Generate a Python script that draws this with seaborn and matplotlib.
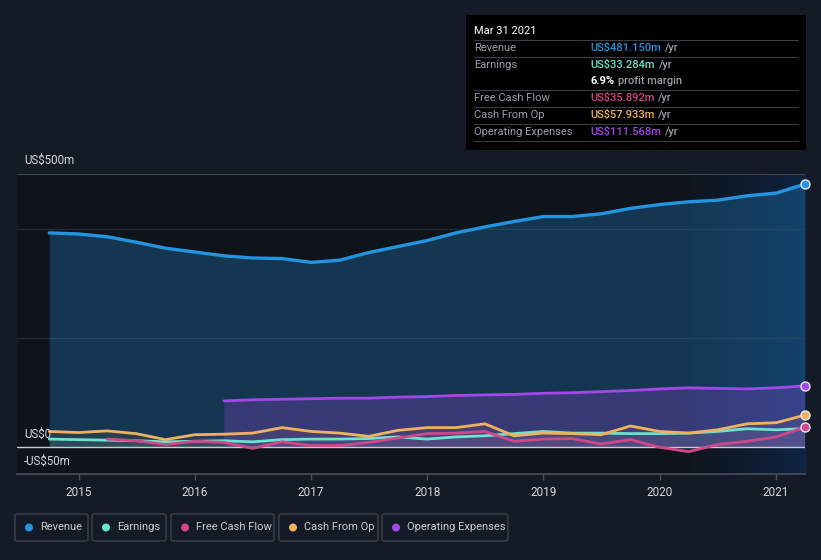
import numpy as np
import pandas as pd
import matplotlib
matplotlib.use("Agg")
import matplotlib.pyplot as plt
import seaborn as sns
from matplotlib.patches import FancyBboxPatch, Rectangle, Ellipse
from matplotlib.colors import LinearSegmentedColormap

# ---------------- data (US$ m, trailing twelve months) ----------------
dates = ["2014-09-30", "2014-12-31", "2015-03-31", "2015-06-30", "2015-09-30", "2015-12-31",
         "2016-03-31", "2016-06-30", "2016-09-30", "2016-12-31", "2017-03-31", "2017-06-30",
         "2017-09-30", "2017-12-31", "2018-03-31", "2018-06-30", "2018-09-30", "2018-12-31",
         "2019-03-31", "2019-06-30", "2019-09-30", "2019-12-31", "2020-03-31", "2020-06-30",
         "2020-09-30", "2020-12-31", "2021-03-31"]
revenue = [392, 390, 385, 375, 364, 357, 350, 346, 345, 338, 342, 356, 367, 378, 392, 403,
           413, 422, 422, 427, 437, 444, 449, 452, 460, 465, 481.15]
earnings = [14, 13, 12, 11, 9, 10, 11, 9, 13, 14, 14, 15, 18, 14, 18, 20, 24, 28, 25, 25,
            24, 24, 25, 28, 33, 31, 33.284]
cash_from_op = [28, 26, 29, 24, 13, 22, 23, 25, 35, 28, 25, 19, 30, 35, 35, 42, 20, 25, 24,
                22, 38, 28, 25, 31, 42, 44, 57.933]
fcf_dates = dates[2:]
free_cash_flow = [14, 11, 4, 10, 8, -3, 9, 2, 2, 8, 16, 24, 25, 28, 10, 14, 15, 5, 13, -1,
                  -9, 4, 10, 18, 35.892]
opex_dates = dates[6:]
operating_expenses = [84, 86, 87, 88, 89, 89, 91, 92, 94, 95, 96, 98, 99, 101, 103, 106, 108,
                      107, 106, 108, 111.568]

year_ticks = [2015, 2016, 2017, 2018, 2019, 2020, 2021]
series_names = ["Revenue", "Earnings", "Free Cash Flow", "Cash From Op", "Operating Expenses"]
colors = {"Revenue": "#2394df", "Earnings": "#6be3cf", "Free Cash Flow": "#d2478a",
          "Cash From Op": "#f0b25e", "Operating Expenses": "#a447e8"}

def dec_year(ds):
    d = pd.to_datetime(pd.Series(ds))
    return (d.dt.year + (d.dt.dayofyear) / 365.25).to_numpy()

frames = []
for name, ds, vals in [("Revenue", dates, revenue), ("Earnings", dates, earnings),
                       ("Free Cash Flow", fcf_dates, free_cash_flow),
                       ("Cash From Op", dates, cash_from_op),
                       ("Operating Expenses", opex_dates, operating_expenses)]:
    frames.append(pd.DataFrame({"t": dec_year(ds), "value": vals, "series": name}))
df = pd.concat(frames, ignore_index=True)

# ---------------- figure ----------------
W, H = 821, 560
FIG_BG = "#151b26"
AX_BG = "#0f131a"
sns.set_theme(style="dark")
plt.rcParams["font.family"] = ["Roboto", "DejaVu Sans"]

fig = plt.figure(figsize=(W / 100, H / 100), dpi=100, facecolor=FIG_BG)

def fx(x):
    return x / W

def fy(y):
    return 1 - y / H

ax = fig.add_axes([fx(17), fy(474), fx(805) - fx(17), fy(174) - fy(474)])
ax.set_facecolor(AX_BG)
ax.set_xlim(2014.47, 2021.25)
ax.set_ylim(-50, 500)

# highlight region (last year)
grad = np.linspace(0, 1, 256).reshape(1, -1)
cmap = LinearSegmentedColormap.from_list("hl", [(0.05, 0.12, 0.2, 0.25), (0.05, 0.2, 0.4, 0.55)])
ax.imshow(grad, extent=[2020.25, 2021.25, -50, 500], aspect="auto", cmap=cmap,
          zorder=0.5, interpolation="bicubic")

# grid lines
for gv in [200, 400]:
    ax.axhline(gv, color="#232833", lw=1.0, zorder=0.6)
ax.axhline(500, color="#4a4f59", lw=1.2, zorder=3)
ax.axhline(0, color="#c9cdd3", lw=1.0, zorder=3)

# fills
fill_alpha = {"Revenue": 0.28, "Earnings": 0.08, "Free Cash Flow": 0.08,
              "Cash From Op": 0.08, "Operating Expenses": 0.25}
for name in series_names:
    sub = df[df.series == name]
    ax.fill_between(sub.t, sub.value, 0, color=colors[name], alpha=fill_alpha[name],
                    lw=0, zorder=1)

# lines
draw_order = ["Revenue", "Operating Expenses", "Earnings", "Cash From Op", "Free Cash Flow"]
lw = {"Revenue": 2.4, "Earnings": 2.0, "Free Cash Flow": 2.0, "Cash From Op": 2.0,
      "Operating Expenses": 2.0}
for i, name in enumerate(draw_order):
    sub = df[df.series == name]
    sns.lineplot(data=sub, x="t", y="value", ax=ax, color=colors[name], lw=lw[name],
                 estimator=None, sort=False, legend=False, zorder=4 + i * 0.1)
    last = sub.iloc[-1]
    if name != "Earnings":
        ax.scatter([last.t], [last.value], s=42, color=colors[name], edgecolor="#e8eaf0",
                   linewidth=1.0, zorder=6, clip_on=False)

# axes styling
ax.set_xlabel("")
ax.set_ylabel("")
ax.set_yticks([])
ax.set_xticks(year_ticks)
ax.set_xticklabels([str(y) for y in year_ticks], color="#d5d8dd", fontsize=8.5)
ax.tick_params(axis="x", length=4, width=1, color="#4a4f59", pad=5, bottom=True)
for s in ["top", "right", "left"]:
    ax.spines[s].set_visible(False)
ax.spines["bottom"].set_color("#4a4f59")
ax.spines["bottom"].set_linewidth(1.2)

# y labels
ylab = dict(color="#d5d8dd", fontsize=8.3, ha="left", va="bottom")
fig.text(fx(24), fy(167), "US$500m", **ylab)
fig.text(fx(24), fy(441), "US$0", **ylab)
fig.text(fx(24), fy(468), "-US$50m", **ylab)

# ---------------- tooltip ----------------
fig.patches.append(Rectangle((fx(466), fy(150)), fx(806) - fx(466), fy(15) - fy(150),
                             transform=fig.transFigure, facecolor="#000000",
                             edgecolor="none", zorder=10))
fig.text(fx(474), fy(31), "Mar 31 2021", color="#ffffff", fontsize=8, va="center", zorder=11)
for ly in [40, 57, 90, 107, 124, 141]:
    fig.lines.append(plt.Line2D([fx(474), fx(798)], [fy(ly), fy(ly)], color="#3a3d44",
                                lw=0.8, transform=fig.transFigure, zorder=11))
rows = [(48, "Revenue", "US$481.150m", colors["Revenue"]),
        (65, "Earnings", "US$33.284m", colors["Earnings"]),
        (98, "Free Cash Flow", "US$35.892m", colors["Free Cash Flow"]),
        (115, "Cash From Op", "US$57.933m", colors["Cash From Op"]),
        (132, "Operating Expenses", "US$111.568m", colors["Operating Expenses"])]
fig.canvas.draw()
renderer = fig.canvas.get_renderer()
for ry, lab, val, col in rows:
    fig.text(fx(474), fy(ry), lab, color="#9a9ea6", fontsize=8, va="center", zorder=11)
    t = fig.text(fx(590), fy(ry), val, color=col, fontsize=8, fontweight="medium",
                 va="center", zorder=11)
    bb = t.get_window_extent(renderer)
    fig.text(bb.x1 / W + fx(4), fy(ry), "/yr", color="#9a9ea6", fontsize=8,
             fontweight="medium", va="center", zorder=11)
m = fig.text(fx(590), fy(81), "6.9%", color="#ffffff", fontsize=8, fontweight="bold",
             va="center", zorder=11)
bb = m.get_window_extent(renderer)
fig.text(bb.x1 / W + fx(4), fy(81), "profit margin", color="#9a9ea6", fontsize=8,
         fontweight="medium", va="center", zorder=11)

# ---------------- legend ----------------
boxes = [("Revenue", 15, 88), ("Earnings", 92, 166), ("Free Cash Flow", 171, 274),
         ("Cash From Op", 279, 378), ("Operating Expenses", 382, 508)]
for name, x0, x1 in boxes:
    fig.patches.append(FancyBboxPatch((fx(x0), fy(541)), fx(x1) - fx(x0), fy(514) - fy(541),
                                      boxstyle="round,pad=0,rounding_size=0.003",
                                      transform=fig.transFigure, facecolor="none",
                                      edgecolor="#3c414b", lw=1.0))
    fig.patches.append(Ellipse((fx(x0 + 14), fy(527.5)), fx(8), 8 / H,
                               transform=fig.transFigure,
                               facecolor=colors[name], edgecolor="none"))
    fig.text(fx(x0 + 25), fy(527.5), name, color="#c9cdd3", fontsize=8, va="center")

fig.savefig("out.png", dpi=100, facecolor=FIG_BG)
